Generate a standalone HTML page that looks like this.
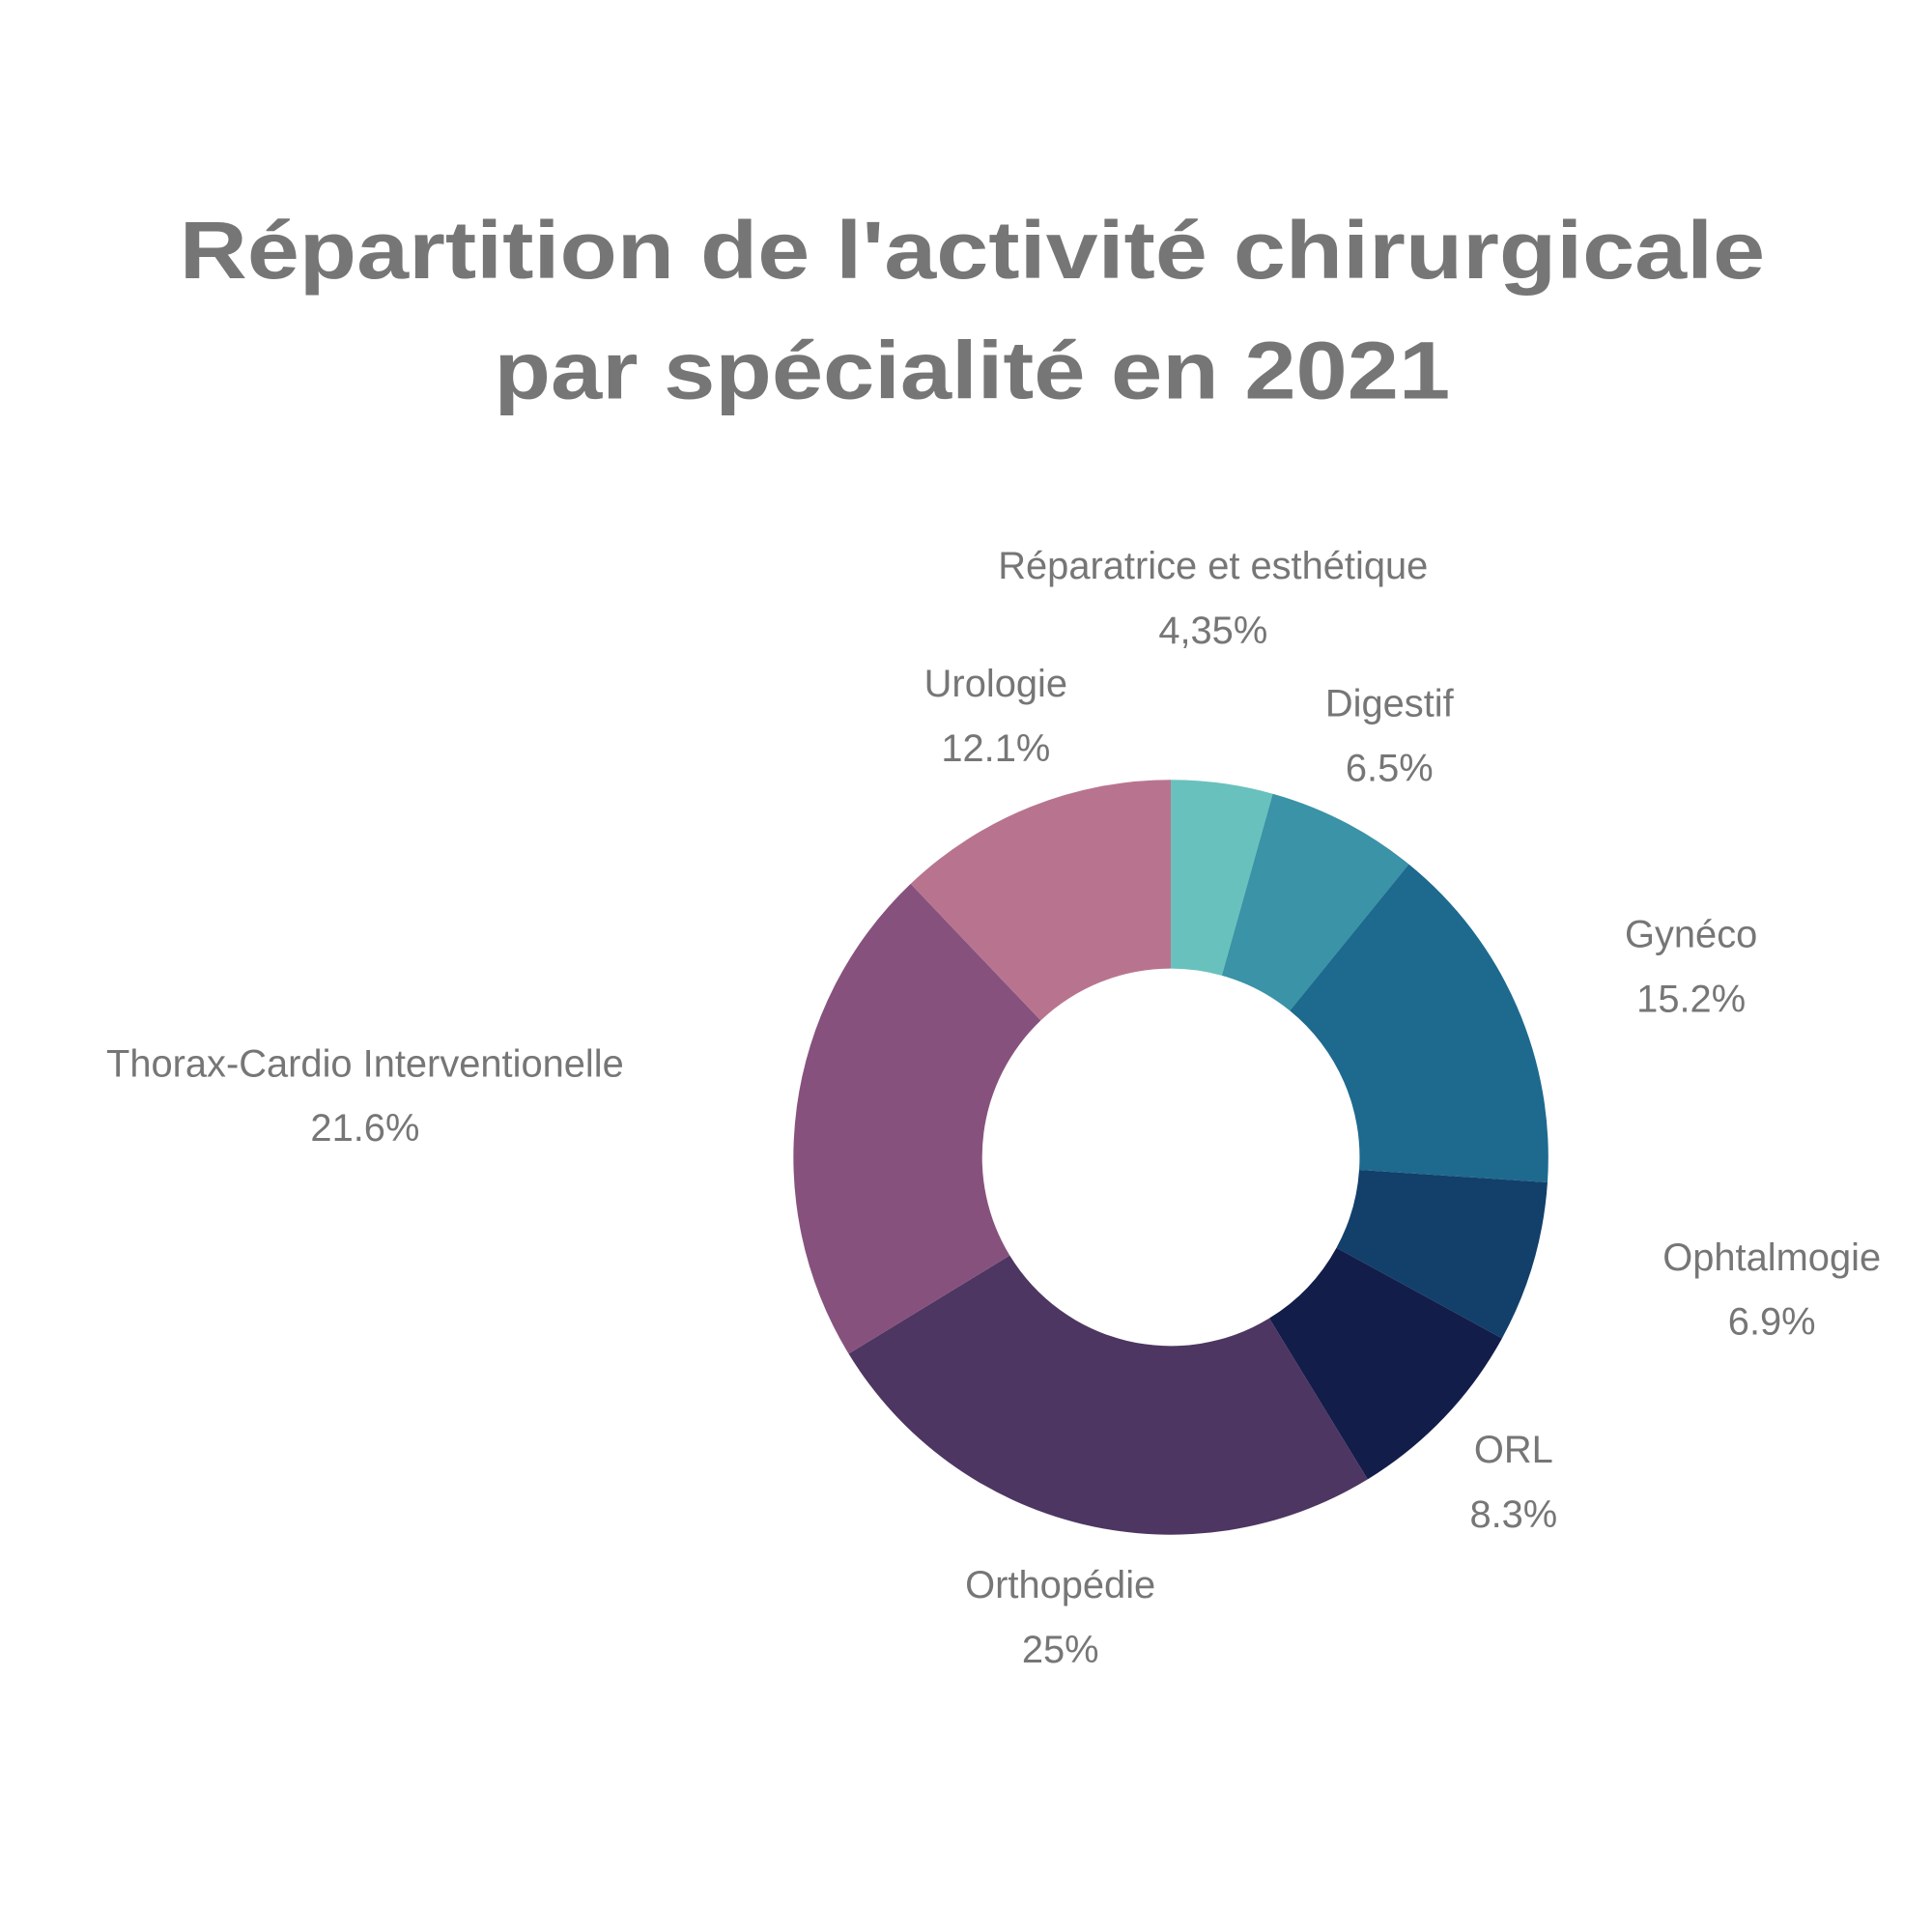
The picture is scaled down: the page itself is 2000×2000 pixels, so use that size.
<!DOCTYPE html>
<html><head><meta charset="utf-8"><style>
html,body{margin:0;padding:0;background:#fff;}
svg{display:block;}
</style></head><body>
<svg id="chart" width="2000" height="2000" viewBox="0 0 1556 1556" xmlns="http://www.w3.org/2000/svg">
<rect width="1556" height="1556" fill="#fff"/>
<g font-family="Liberation Sans, sans-serif" font-weight="bold" fill="#767676" font-size="66" text-anchor="middle">
<text x="783" y="224" textLength="1277" lengthAdjust="spacingAndGlyphs">Répartition de l'activité chirurgicale</text>
<text x="783" y="321" textLength="770" lengthAdjust="spacingAndGlyphs">par spécialité en 2021</text>
</g>
<g id="slices"></g>
<g id="labels" font-family="Liberation Sans, sans-serif" fill="#767676" font-size="31" text-anchor="middle"></g>
</svg>
<script>
const categories=["Réparatrice et esthétique","Digestif","Gynéco","Ophtalmogie","ORL","Orthopédie","Thorax-Cardio Interventionelle","Urologie"];
const values=[4.35,6.5,15.2,6.9,8.3,25,21.6,12.1];
const valueLabels=["4,35%","6.5%","15.2%","6.9%","8.3%","25%","21.6%","12.1%"];
const colors=["#68c1bd","#3a93a6","#1d6a8e","#12406b","#131d4a","#4d3662","#86527d","#b8748e"];
const labelPos=[[977,455],[1119,566],[1362,752],[1427,1012],[1219,1167],[854,1276],[294,856],[802,550]];
const cx=943,cy=932,R=304,r=152;
const NS="http://www.w3.org/2000/svg";
const total=values.reduce((a,b)=>a+b,0);
function pt(a,rad){return [cx+rad*Math.sin(a),cy-rad*Math.cos(a)];}
let acc=0;
const sg=document.getElementById('slices'),lg=document.getElementById('labels');
values.forEach((v,i)=>{
  const a0=acc/total*2*Math.PI; acc+=v; const a1=acc/total*2*Math.PI;
  const large=(a1-a0)>Math.PI?1:0;
  const [x0,y0]=pt(a0,R),[x1,y1]=pt(a1,R),[x2,y2]=pt(a1,r),[x3,y3]=pt(a0,r);
  const p=document.createElementNS(NS,'path');
  p.setAttribute('d',`M${x0},${y0}A${R},${R} 0 ${large} 1 ${x1},${y1}L${x2},${y2}A${r},${r} 0 ${large} 0 ${x3},${y3}Z`);
  p.setAttribute('fill',colors[i]);
  
  
  sg.appendChild(p);
  const [lx,ly]=labelPos[i];
  const t1=document.createElementNS(NS,'text');
  t1.setAttribute('x',lx);t1.setAttribute('y',ly+11);t1.textContent=categories[i];
  
  
  lg.appendChild(t1);
  const t2=document.createElementNS(NS,'text');
  t2.setAttribute('x',lx);t2.setAttribute('y',ly+63);t2.textContent=valueLabels[i];
  
  
  lg.appendChild(t2);
});
</script>
</body></html>
